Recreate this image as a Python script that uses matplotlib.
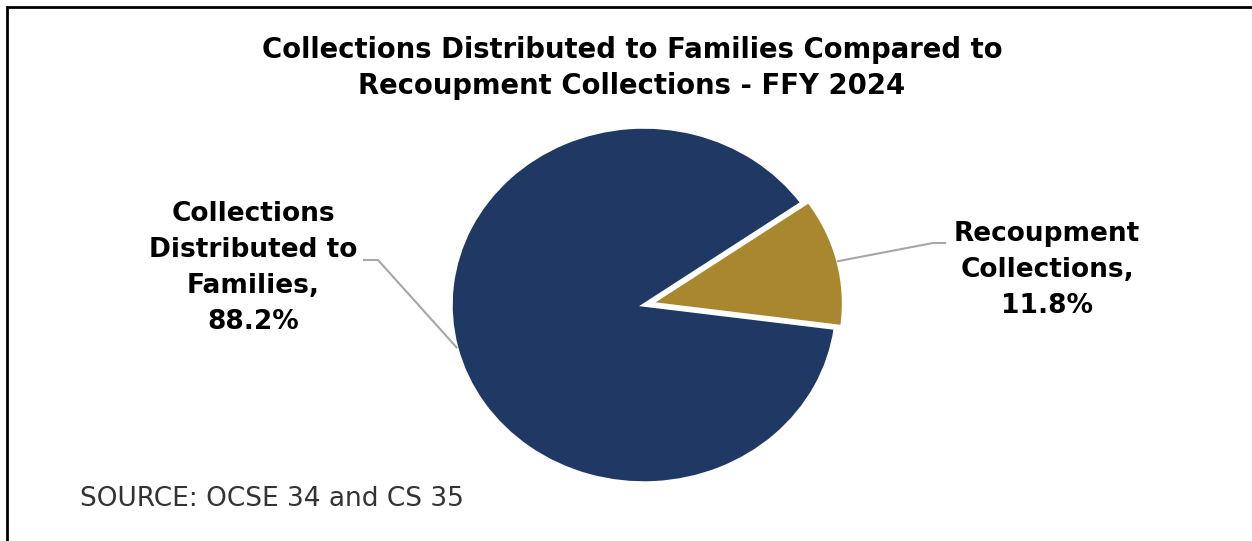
import numpy as np
import matplotlib
matplotlib.use("Agg")
import matplotlib.pyplot as plt

# ---- data ----
categories = ["Collections\nDistributed to\nFamilies,", "Recoupment\nCollections,"]
values = [88.2, 11.8]
colors = ["#1F3864", "#A8872F"]
title_text = "Collections Distributed to Families Compared to\nRecoupment Collections - FFY 2024"
source_text = "SOURCE: OCSE 34 and CS 35"

W, H = 1252, 541
fig = plt.figure(figsize=(W / 100, H / 100), dpi=100)
fig.patch.set_facecolor("white")

# pie axes (slightly stretched horizontally as in the reference)
cx, cy, rx, ry = 644, 305, 193, 178
L = 1.5
ax = fig.add_axes([(cx - L * rx) / W, 1 - (cy + L * ry) / H, 2 * L * rx / W, 2 * L * ry / H])
explode = [0, 0.035]
wedges, _ = ax.pie(values, colors=colors, startangle=35, counterclock=True,
                   explode=explode,
                   wedgeprops=dict(edgecolor="white", linewidth=2.5))
ax.set_aspect("auto")
ax.set_xlim(-L, L)
ax.set_ylim(-L, L)
ax.axis("off")

# overlay axes in pixel coordinates
ov = fig.add_axes([0, 0, 1, 1], facecolor="none")
ov.set_xlim(0, W)
ov.set_ylim(H, 0)
ov.axis("off")

# frame
ov.plot([7, 7, W], [H, 7, 7], color="black", lw=2, solid_joinstyle="miter")

bold = dict(family="DejaVu Sans", fontweight="bold", color="black")
ov.text(632, 68, title_text, ha="center", va="center", fontsize=19.8,
        linespacing=1.4, **bold)
ov.text(80, 499, source_text, ha="left", va="center", fontsize=19,
        family="DejaVu Sans", color="#333333")

# labels with leader lines
label_pos = [(253, 268), (1047, 270)]
elbows = [((378, 260), (364, 260)), ((933, 243), (945, 243))]
for i, w in enumerate(wedges):
    mid = np.deg2rad((w.theta1 + w.theta2) / 2)
    ex = explode[i]
    px = (ex + 1.0) * np.cos(mid)
    py = (ex + 1.0) * np.sin(mid)
    dx, dy = ax.transData.transform((px, py))
    x0, y0 = dx, H - dy
    (ex1, ey1), (ex2, ey2) = elbows[i]
    ov.plot([x0, ex1, ex2], [y0, ey1, ey2], color="#A6A6A6", lw=1.5)
    lx, ly = label_pos[i]
    ov.text(lx, ly, f"{categories[i]}\n{values[i]:.1f}%", ha="center", va="center",
            fontsize=19, linespacing=1.5, **bold)

fig.savefig("out.png", dpi=100, facecolor="white")
